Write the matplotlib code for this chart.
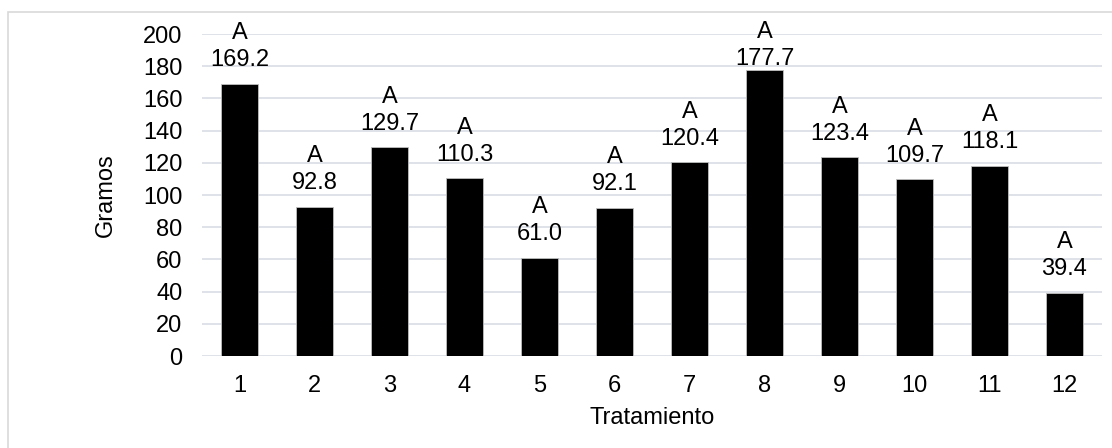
import matplotlib.pyplot as plt
from matplotlib.patches import Rectangle

plt.rcParams['font.family'] = ['Liberation Sans', 'DejaVu Sans']

tratamientos = ['1', '2', '3', '4', '5', '6', '7', '8', '9', '10', '11', '12']
gramos = [169.2, 92.8, 129.7, 110.3, 61.0, 92.1, 120.4, 177.7, 123.4, 109.7, 118.1, 39.4]
letras = ['A'] * 12

fs = 17
label_cap = 170  # labels are kept inside the plot area, like Excel does

fig = plt.figure(figsize=(11.12, 4.48), dpi=100)
ax = fig.add_axes([202 / 1112, 92 / 448, 900 / 1112, 322 / 448])

# chart frame (only top and left edges fall inside the canvas)
fig.patches.append(Rectangle((8 / 1112, -0.2), 1.2, 1.2 - 12 / 448,
                             transform=fig.transFigure, fill=False,
                             edgecolor='#d9d9d9', linewidth=1.2))

x = range(len(tratamientos))
ax.bar(x, gramos, width=0.5, color='black', edgecolor='#bfbfbf',
       linewidth=0.6, zorder=3)

for xi, v, l in zip(x, gramos, letras):
    ax.annotate(f'{l}\n{v:.1f}', (xi, min(v, label_cap)), xytext=(0, 9),
                textcoords='offset points', ha='center', va='bottom',
                fontsize=fs, linespacing=1.3, zorder=4)

ax.set_ylim(0, 200)
ax.set_xlim(-0.5, len(tratamientos) - 0.5)
ax.set_yticks(range(0, 201, 20))
ax.set_xticks(list(x))
ax.set_xticklabels(tratamientos)
ax.yaxis.grid(True, color='#d9dde4', linewidth=1.2, zorder=0)
ax.set_axisbelow(True)
for s in ax.spines.values():
    s.set_visible(False)
ax.tick_params(length=0, labelsize=fs, colors='black')
ax.tick_params(axis='y', pad=14)
ax.tick_params(axis='x', pad=14)
ax.set_ylabel('Gramos', fontsize=fs, labelpad=19)
ax.set_xlabel('Tratamiento', fontsize=fs, labelpad=7)

fig.savefig('out.png', dpi=100)
